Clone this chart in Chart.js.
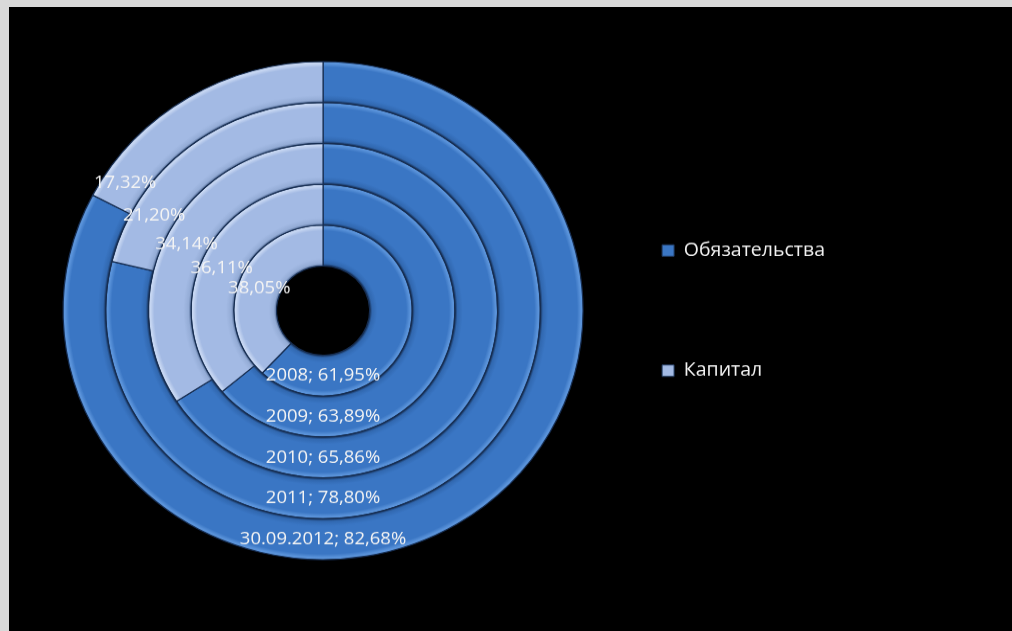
<!DOCTYPE html>
<html>
<head>
<meta charset="utf-8">
<script src="https://cdn.jsdelivr.net/npm/chart.js@4.4.1/dist/chart.umd.min.js"></script>
<style>
  body { margin: 0; background: #d9d9d9; }
  #panel { position: absolute; left: 9px; top: 7px; width: 1003px; height: 624px; background: #000; overflow: hidden; }
  #wrap { width: 1003px; height: 650px; transform: scaleY(0.9577); transform-origin: 0 0; }
</style>
</head>
<body>
<div id="panel">
  <div id="wrap"><canvas id="structureChart"></canvas></div>
</div>
<script>
// periods from inner ring to outer ring
const periods = ['2008', '2009', '2010', '2011', '30.09.2012'];
const seriesNames = ['Обязательства', 'Капитал'];
const liabilities = [61.95, 63.89, 65.86, 78.80, 82.68];
const equity = [38.05, 36.11, 34.14, 21.20, 17.32];

const palette = [
  { shadow: '#162f55', low: '#3168b0', body: '#3a76c4', high: '#5a93da', flat: '#3a76c4' },
  { shadow: '#4f6892', low: '#94acd6', body: '#a3bae4', high: '#c6d6f2', flat: '#a3bae4' }
];

const fmt = v => v.toFixed(2).replace('.', ',');

// radial bevel for each ring, built from the controller's own radii
function ringFill(c) {
  const tone = palette[c.dataIndex] || palette[0];
  const chart = c.chart;
  const area = chart.chartArea;
  const ctrl = chart.getDatasetMeta(c.datasetIndex).controller;
  if (!area || !ctrl || !ctrl.outerRadius) return tone.flat;
  const cx = (area.left + area.right) / 2;
  const cy = (area.top + area.bottom) / 2;
  const g = chart.ctx.createRadialGradient(cx, cy, ctrl.innerRadius, cx, cy, ctrl.outerRadius);
  g.addColorStop(0, tone.shadow);
  g.addColorStop(0.06, tone.low);
  g.addColorStop(0.18, tone.body);
  g.addColorStop(0.86, tone.body);
  g.addColorStop(0.95, tone.high);
  g.addColorStop(1, tone.high);
  return g;
}

// Chart.js puts the first dataset on the outside, so reverse
const datasets = periods.map((p, i) => ({
  label: p,
  data: [liabilities[i], equity[i]],
  backgroundColor: ringFill,
  borderColor: '#172e52',
  borderWidth: 1.2
})).reverse();

const ringLabels = {
  id: 'ringLabels',
  afterDatasetsDraw(chart) {
    const ctx = chart.ctx;
    const n = chart.data.datasets.length;
    ctx.save();
    ctx.font = '18.5px "Open Sans"';
    ctx.fillStyle = '#f4f4f4';
    ctx.textAlign = 'center';
    ctx.textBaseline = 'middle';
    chart.data.datasets.forEach((ds, d) => {
      const k = n - 1 - d; // 0 = innermost ring
      chart.getDatasetMeta(d).data.forEach((arc, j) => {
        const r = (arc.innerRadius + arc.outerRadius) / 2;
        let a, text;
        if (j === 0) {
          a = Math.PI / 2;
          text = ds.label + '; ' + fmt(ds.data[0]) + '%';
        } else {
          a = (200 + 3.5 * k) * Math.PI / 180;
          text = fmt(ds.data[1]) + '%';
        }
        ctx.fillText(text, arc.x + r * Math.cos(a), arc.y + r * Math.sin(a));
      });
    });
    ctx.restore();
  }
};

Chart.defaults.font.family = '"Open Sans", sans-serif';

new Chart(document.getElementById('structureChart'), {
  type: 'doughnut',
  data: { labels: seriesNames, datasets },
  options: {
    responsive: true,
    maintainAspectRatio: false,
    animation: false,
    events: [],
    radius: 260,
    cutout: '17.9%',
    layout: { padding: { top: 57, bottom: 73, left: 81, right: 177 } },
    plugins: {
      tooltip: { enabled: false },
      legend: {
        position: 'right',
        labels: {
          boxWidth: 12,
          boxHeight: 12,
          padding: 106,
          font: { size: 19.5 },
          generateLabels: () => seriesNames.map((name, i) => ({
            text: name,
            fillStyle: palette[i].flat,
            strokeStyle: '#203a60',
            lineWidth: 1,
            fontColor: '#f2f2f2',
            hidden: false,
            index: i
          }))
        }
      }
    }
  },
  plugins: [ringLabels]
});
</script>
</body>
</html>
